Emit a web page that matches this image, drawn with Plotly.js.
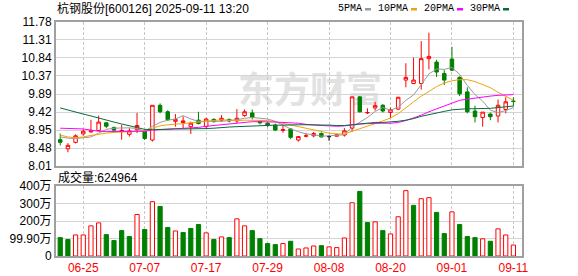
<!DOCTYPE html>
<html><head><meta charset="utf-8">
<script src="https://cdn.plot.ly/plotly-3.0.1.min.js"></script>
<style>html,body{margin:0;padding:0;background:#fff}</style>
</head><body><div id="chart" style="width:578px;height:276px"></div>
<script>
const stockName = '杭钢股份';
const stockCode = '600126';
const stamp = '2025-09-11 13:20';
const dates = ['06-20','06-23','06-24','06-25','06-26','06-27','06-30','07-01','07-02','07-03','07-04','07-07','07-08','07-09','07-10','07-11','07-14','07-15','07-16','07-17','07-18','07-21','07-22','07-23','07-24','07-25','07-28','07-29','07-30','07-31','08-01','08-04','08-05','08-06','08-07','08-08','08-11','08-12','08-13','08-14','08-15','08-18','08-19','08-20','08-21','08-22','08-25','08-26','08-27','08-28','08-29','09-01','09-02','09-03','09-04','09-05','09-08','09-09','09-10','09-11'];
const open  = [8.70,8.46,8.63,8.85,8.90,8.94,9.14,9.02,8.93,8.84, 8.96,8.92,8.69,9.60,9.43,9.18,9.15,9.04,9.21,9.04, 9.23,9.21,9.23,9.19,9.33,9.40,9.18,9.13,9.08,8.94, 8.98,8.69,8.79,8.80,8.86,8.78,8.79,8.82,9.00,9.82, 9.40,9.53,9.60,9.41,9.50,10.26,10.17,10.17,10.82,10.73, 10.43,10.81,10.33,9.95,9.45,9.28,9.37,9.32,9.49,9.71];
const high  = [8.86,8.61,8.84,8.97,9.22,9.33,9.16,9.04,9.09,9.00, 9.40,8.97,9.60,9.65,9.47,9.37,9.31,9.17,9.43,9.27, 9.26,9.34,9.25,9.50,9.49,9.49,9.20,9.17,9.12,9.08, 9.00,8.79,8.88,8.90,8.89,8.82,8.86,9.00,9.82,9.84, 9.52,9.69,9.63,9.54,9.82,10.70,10.85,11.28,11.50,10.79, 10.52,11.13,10.36,10.07,9.59,9.42,9.41,9.75,9.81,9.81];
const low   = [8.55,8.37,8.60,8.80,8.89,8.92,9.00,8.88,8.70,8.78, 8.87,8.69,8.65,9.39,9.19,9.04,9.00,8.85,9.10,9.00, 9.15,9.17,9.15,9.13,9.30,9.23,9.10,9.03,8.93,8.88, 8.71,8.65,8.76,8.76,8.76,8.67,8.78,8.78,8.91,9.41, 9.37,9.46,9.41,9.26,9.47,10.07,10.17,10.01,10.54,10.34, 10.13,10.50,9.84,9.39,9.15,9.04,9.21,9.15,9.39,9.57];
const close = [8.63,8.55,8.80,8.92,8.93,9.16,9.05,8.95,8.94,8.93, 9.07,8.73,9.60,9.43,9.22,9.23,9.19,9.13,9.12,9.24, 9.17,9.26,9.19,9.26,9.43,9.28,9.14,9.08,8.95,8.96, 8.76,8.78,8.80,8.86,8.77,8.78,8.83,8.93,9.82,9.43, 9.41,9.59,9.45,9.48,9.81,10.33,10.26,10.82,10.88,10.47, 10.26,10.52,9.90,9.43,9.30,9.42,9.30,9.60,9.69,9.70];
const volume = [1050000,940000,1200000,1200000,1720000,1890000,1220000,880000,1450000,1110000, 2370000,1510000,3100000,2830000,1630000,1430000,1340000,1570000,1800000,1320000, 940000,1090000,1050000,2120000,1720000,1450000,990000,710000,650000,710000, 840000,400000,460000,570000,590000,520000,480000,1030000,3040000,3690000, 1910000,1950000,1450000,1260000,2240000,3730000,2890000,3270000,3330000,2490000, 1280000,2520000,1800000,1110000,1050000,980000,840000,1550000,1200000,624964];
const ma5  = [8.77,8.74,8.73,8.75,8.77,8.87,8.97,9.00,9.01,9.01, 8.99,8.92,9.05,9.15,9.21,9.24,9.33,9.24,9.18,9.18, 9.17,9.18,9.20,9.22,9.26,9.28,9.26,9.24,9.18,9.08, 8.98,8.91,8.85,8.83,8.79,8.80,8.81,8.83,9.03,9.16, 9.28,9.44,9.54,9.47,9.55,9.73,9.87,10.14,10.42,10.55, 10.54,10.59,10.41,10.12,9.88,9.71,9.47,9.41,9.46,9.54];
const ma10 = [8.82,8.77,8.75,8.77,8.81,8.85,8.87,8.89,8.90,8.90, 8.92,8.94,9.01,9.06,9.09,9.10,9.12,9.14,9.16,9.18, 9.20,9.22,9.21,9.20,9.21,9.21,9.21,9.20,9.17,9.13, 9.08,9.03,8.99,8.96,8.91,8.87,8.85,8.85,8.92,8.98, 9.05,9.12,9.19,9.27,9.38,9.53,9.68,9.84,9.96,10.09, 10.18,10.24,10.27,10.27,10.22,10.15,10.06,9.94,9.83,9.73];
const ma20 = [9.00,8.99,8.98,8.98,8.95,8.92,8.91,8.91,8.91,8.91, 8.91,8.92,8.95,8.96,8.98,8.98,8.99,9.00,9.02,9.05, 9.07,9.10,9.12,9.14,9.16,9.17,9.17,9.17,9.16,9.15, 9.14,9.13,9.10,9.08,9.07,9.06,9.05,9.06,9.09,9.11, 9.12,9.13,9.13,9.13,9.15,9.20,9.26,9.34,9.43,9.51, 9.59,9.67,9.73,9.76,9.79,9.81,9.84,9.86,9.87,9.88];
const ma30 = [9.53,9.47,9.42,9.37,9.32,9.26,9.21,9.16,9.11,9.06, 9.01,8.97,8.96,8.97,8.97,8.98,8.98,8.98,8.98,8.99, 9.00,9.02,9.03,9.04,9.05,9.06,9.07,9.07,9.08,9.08, 9.09,9.09,9.09,9.09,9.09,9.08,9.07,9.07,9.09,9.11, 9.12,9.15,9.15,9.16,9.18,9.21,9.25,9.31,9.36,9.41, 9.44,9.48,9.50,9.51,9.51,9.51,9.52,9.54,9.56,9.58];
const maNames = ['5PMA','10PMA','20PMA','30PMA'];
const dateTicks = ['06-25','07-07','07-17','07-29','08-08','08-20','09-01','09-11'];
const priceTicks = ['8.01','8.48','8.95','9.42','9.89','10.37','10.84','11.31','11.78'];
const volTickVals = [0, 999000, 1998000, 2997000, 3996000];
const volTickText = ['0','99.90万','200万','300万','400万'];
const watermarkText = '东方财富';

const RED = '#ff0000', GREEN = '#008000';
const maColors = ['#9a9a9a', '#f0a30a', '#ff00ff', '#0a6b3a'];
const FONT = 'Liberation Sans, Arial, Noto Sans CJK SC, sans-serif';

const xs = dates.map((_, i) => i);
const tickIdx = dateTicks.map(d => dates.indexOf(d));
const priceVals = priceTicks.map(Number);

const groups = {up: [], down: [], flat: []};
xs.forEach(i => {
  if (close[i] > open[i]) groups.up.push(i);
  else if (close[i] < open[i]) groups.down.push(i);
  else groups.flat.push(i);
});
function candle(idx, lineInc, fillInc, lineDec, fillDec) {
  return {
    type: 'candlestick', xaxis: 'x', yaxis: 'y',
    x: idx, open: idx.map(i => open[i]), high: idx.map(i => high[i]),
    low: idx.map(i => low[i]), close: idx.map(i => close[i]),
    increasing: {line: {color: lineInc, width: 1}, fillcolor: fillInc},
    decreasing: {line: {color: lineDec, width: 1}, fillcolor: fillDec},
    whiskerwidth: 0, hoverinfo: 'skip', showlegend: false
  };
}
const traces = [
  candle(groups.up, RED, '#ffffff', RED, '#ffffff'),
  candle(groups.down, GREEN, GREEN, GREEN, GREEN),
  candle(groups.flat, '#000000', '#000000', '#000000', '#000000')
];
[ma5, ma10, ma20, ma30].forEach((m, k) => {
  traces.push({type: 'scatter', mode: 'lines', x: xs, y: m, xaxis: 'x', yaxis: 'y',
    line: {color: maColors[k], width: 1}, hoverinfo: 'skip', showlegend: false});
});
const volUp = xs.map(i => i === 0 ? close[0] >= open[0] : close[i] >= close[i - 1]);
traces.push({
  type: 'bar', x: xs, y: volume, xaxis: 'x2', yaxis: 'y2', width: 0.55,
  marker: {color: volUp.map(u => u ? '#ffffff' : GREEN),
           line: {color: volUp.map(u => u ? RED : GREEN), width: 1}},
  hoverinfo: 'skip', showlegend: false
});

const L = 56, R = 522, T = 22, B = 256;
const px = v => (v - L) / (R - L);
const py = v => (B - v) / (B - T);

const annotations = [
  {text: stockName + '[' + stockCode + '] ' + stamp, xref: 'paper', yref: 'paper',
   x: px(55), y: py(9), xanchor: 'left', yanchor: 'middle', showarrow: false,
   font: {family: FONT, size: 12, color: '#000'}},
  {text: '成交量:' + volume[volume.length - 1], xref: 'paper', yref: 'paper',
   x: px(56), y: py(177.5), xanchor: 'left', yanchor: 'middle', showarrow: false,
   font: {family: FONT, size: 12, color: '#000'}}
];
const legendRight = [364, 410, 456, 502];
const shapes = [];
maNames.forEach((n, k) => {
  annotations.push({text: n, xref: 'paper', yref: 'paper', x: px(legendRight[k]), y: py(9),
    xanchor: 'right', yanchor: 'middle', showarrow: false,
    font: {family: 'Liberation Mono, monospace', size: 10, color: '#000'}});
  shapes.push({type: 'rect', xref: 'paper', yref: 'paper',
    x0: px(legendRight[k] + 1), x1: px(legendRight[k] + 7), y0: py(10.5), y1: py(8),
    fillcolor: maColors[k], line: {width: 0}});
});
shapes.push({type: 'rect', xref: 'paper', yref: 'paper', layer: 'below',
  x0: px(228), x1: px(392), y0: py(112), y1: py(74),
  fillcolor: 'rgba(0,0,0,0)', line: {width: 0},
  label: {text: watermarkText, textposition: 'middle center',
    font: {family: 'Noto Sans CJK SC', size: 36, color: '#e2e2e2', weight: 700}}});

const axisCommon = {showline: true, mirror: true, linecolor: '#a0a0a0', linewidth: 2,
  zeroline: false, ticks: '', fixedrange: true};
const layout = {
  width: 578, height: 276,
  margin: {l: L, r: 578 - R, t: T, b: 276 - B},
  paper_bgcolor: '#ffffff', plot_bgcolor: 'rgba(0,0,0,0)',
  showlegend: false, boxgap: 0.35, bargap: 0,
  xaxis: Object.assign({}, axisCommon, {domain: [0, 1], anchor: 'y', range: [-0.55, 60.12],
    tickmode: 'array', tickvals: tickIdx, showticklabels: false,
    showgrid: true, gridcolor: '#c8c8c8', griddash: '3px,2px', gridwidth: 1,
    rangeslider: {visible: false}}),
  yaxis: Object.assign({}, axisCommon, {domain: [(B - 166) / (B - T), 1], anchor: 'x',
    range: [8.01, 11.78], tickmode: 'array', tickvals: priceVals, ticktext: priceTicks,
    showgrid: true, gridcolor: '#d4d4d4', gridwidth: 1,
    tickfont: {family: FONT, size: 12, color: '#000'}}),
  xaxis2: Object.assign({}, axisCommon, {domain: [0, 1], anchor: 'y2', matches: 'x',
    range: [-0.55, 60.12], tickmode: 'array', tickvals: tickIdx, ticktext: dateTicks,
    showgrid: true, gridcolor: '#c8c8c8', griddash: '3px,2px', gridwidth: 1,
    tickfont: {family: FONT, size: 12, color: RED}}),
  yaxis2: Object.assign({}, axisCommon, {domain: [0, (B - 186) / (B - T)], anchor: 'x2',
    range: [0, 3996000], tickmode: 'array', tickvals: volTickVals, ticktext: volTickText,
    showgrid: true, gridcolor: '#d4d4d4', gridwidth: 1,
    tickfont: {family: FONT, size: 12, color: '#000'}}),
  annotations: annotations, shapes: shapes
};
Plotly.newPlot('chart', traces, layout, {staticPlot: true, displayModeBar: false});
</script></body></html>
